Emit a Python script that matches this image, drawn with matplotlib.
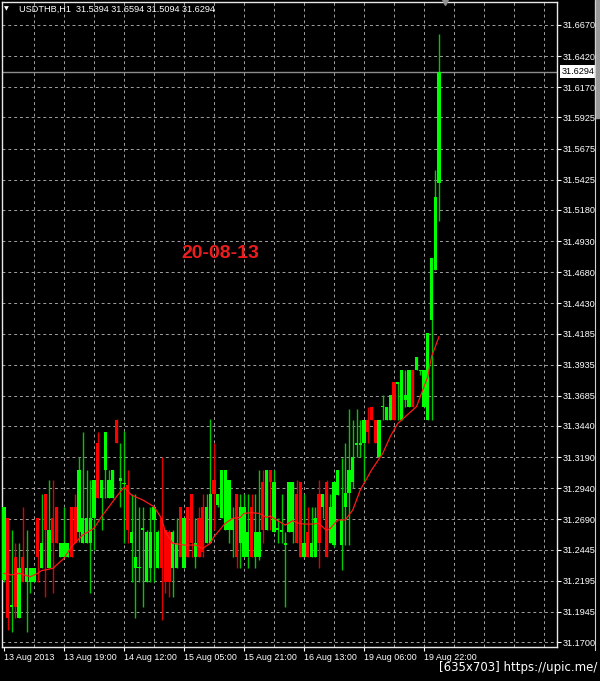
import matplotlib
matplotlib.use("Agg")
import matplotlib.pyplot as plt
import matplotlib.transforms as mtransforms
from matplotlib.patches import Rectangle
import numpy as np

plt.rcParams['font.family'] = ['Liberation Sans', 'DejaVu Sans']

# ---------------- data ----------------
symbol = "USDTHB,H1"
stamp = "20-08-13"
watermark = "[635x703] https://upic.me/"

opens = [31.2200, 31.2696, 31.1985, 31.2387, 31.1891, 31.2387, 31.2186, 31.2186, 31.2186, 31.2696,
         31.2293, 31.2889, 31.2293, 31.2696, 31.2790, 31.2387, 31.2387, 31.2387, 31.2790, 31.2790,
         31.2588, 31.2495, 31.2495, 31.2495, 31.2696, 31.3300, 31.2862, 31.3085, 31.2862, 31.2862,
         31.3488, 31.3000, 31.2970, 31.2964, 31.2495, 31.2293, 31.2293, 31.2602, 31.2186, 31.2293,
         31.2683, 31.2293, 31.2696, 31.2602, 31.2589, 31.2293, 31.2293, 31.2790, 31.2293, 31.2790,
         31.2889, 31.2387, 31.2696, 31.2790, 31.2495, 31.2495, 31.3005, 31.2800, 31.2696, 31.2602,
         31.2602, 31.2602, 31.2889, 31.2495, 31.2387, 31.2387, 31.2790, 31.2387, 31.2387, 31.2991,
         31.2602, 31.3085, 31.2589, 31.2602, 31.2589, 31.2482, 31.2589, 31.2589, 31.2889, 31.2991,
         31.2387, 31.2589, 31.2387, 31.2387, 31.2889, 31.2790, 31.2991, 31.2495, 31.2481, 31.2884,
         31.2481, 31.2790, 31.2898, 31.2991, 31.3290, 31.3287, 31.3300, 31.3488, 31.3596, 31.3488,
         31.3193, 31.3590, 31.3488, 31.3488, 31.3797, 31.3780, 31.3488, 31.3650, 31.3596, 31.3891,
         31.3891, 31.3885, 31.3596, 31.3488, 31.4294, 31.4697, 31.5394]
highs = [31.2790, 31.2696, 31.2602, 31.2495, 31.2495, 31.2790, 31.2602, 31.2293, 31.2293, 31.2696,
         31.2889, 31.2889, 31.3005, 31.3005, 31.2790, 31.2495, 31.2790, 31.2495, 31.2790, 31.2889,
         31.3193, 31.3394, 31.3085, 31.3005, 31.3005, 31.3394, 31.3005, 31.3394, 31.3085, 31.3085,
         31.3500, 31.3300, 31.3400, 31.3085, 31.2889, 31.2889, 31.2790, 31.2790, 31.2602, 31.2790,
         31.2790, 31.2602, 31.3193, 31.2602, 31.2602, 31.2602, 31.2696, 31.2790, 31.2696, 31.2790,
         31.2889, 31.2696, 31.2790, 31.2889, 31.2889, 31.3500, 31.3300, 31.2889, 31.3085, 31.3085,
         31.3005, 31.2790, 31.2889, 31.2889, 31.2889, 31.2889, 31.2889, 31.2889, 31.3085, 31.3085,
         31.3085, 31.3085, 31.3085, 31.2696, 31.2889, 31.2589, 31.2991, 31.2991, 31.3005, 31.2991,
         31.2889, 31.2790, 31.2790, 31.2790, 31.3005, 31.2889, 31.3005, 31.2889, 31.2991, 31.3085,
         31.3180, 31.3300, 31.3580, 31.3488, 31.3580, 31.3488, 31.3488, 31.3596, 31.3596, 31.3488,
         31.3488, 31.3690, 31.3596, 31.3690, 31.3797, 31.3797, 31.3891, 31.3891, 31.3891, 31.3891,
         31.3993, 31.3891, 31.3891, 31.4186, 31.4793, 31.5502, 31.6594]
lows = [31.2186, 31.1800, 31.1783, 31.1891, 31.1891, 31.2186, 31.1783, 31.2092, 31.2186, 31.2186,
        31.2293, 31.2065, 31.2293, 31.2092, 31.2495, 31.2387, 31.2387, 31.2387, 31.2387, 31.2495,
        31.2508, 31.2495, 31.2495, 31.2092, 31.2440, 31.2862, 31.2602, 31.2862, 31.2862, 31.2862,
        31.3300, 31.2790, 31.2495, 31.2495, 31.2186, 31.1891, 31.2186, 31.1985, 31.2186, 31.2186,
        31.2186, 31.2293, 31.1877, 31.2092, 31.2065, 31.2065, 31.2293, 31.2387, 31.2293, 31.2387,
        31.2387, 31.2293, 31.2387, 31.2387, 31.2495, 31.2495, 31.2602, 31.2790, 31.2696, 31.2602,
        31.2495, 31.2387, 31.2293, 31.2293, 31.2387, 31.2293, 31.2387, 31.2293, 31.2360, 31.2495,
        31.2602, 31.2602, 31.2589, 31.2495, 31.2495, 31.1985, 31.2589, 31.2495, 31.2495, 31.2387,
        31.2387, 31.2387, 31.2387, 31.2387, 31.2293, 31.2696, 31.2387, 31.2495, 31.2468, 31.2884,
        31.2280, 31.2481, 31.2481, 31.2938, 31.3193, 31.3193, 31.2991, 31.3300, 31.3488, 31.3300,
        31.3193, 31.3488, 31.3488, 31.3488, 31.3488, 31.3488, 31.3488, 31.3596, 31.3596, 31.3596,
        31.3891, 31.3850, 31.3596, 31.3488, 31.3488, 31.4697, 31.5094]
closes = [31.2790, 31.1891, 31.1995, 31.1985, 31.2293, 31.2186, 31.2293, 31.2293, 31.2293, 31.2387,
          31.2495, 31.2602, 31.2602, 31.2495, 31.2495, 31.2495, 31.2495, 31.2495, 31.2387, 31.2495,
          31.3085, 31.2696, 31.2696, 31.2696, 31.3005, 31.2862, 31.3005, 31.3394, 31.3005, 31.3085,
          31.3300, 31.3020, 31.2980, 31.2602, 31.2589, 31.2387, 31.2306, 31.2615, 31.2589, 31.2589,
          31.2790, 31.2589, 31.2293, 31.2186, 31.2186, 31.2589, 31.2495, 31.2387, 31.2696, 31.2387,
          31.2495, 31.2495, 31.2387, 31.2423, 31.2790, 31.2889, 31.2889, 31.2889, 31.3085, 31.3085,
          31.3005, 31.2696, 31.2387, 31.2790, 31.2790, 31.2589, 31.2387, 31.2589, 31.2589, 31.2602,
          31.3085, 31.2991, 31.2991, 31.2615, 31.2602, 31.2495, 31.2991, 31.2991, 31.2495, 31.2387,
          31.2495, 31.2387, 31.2495, 31.2696, 31.2495, 31.2889, 31.2387, 31.2790, 31.2991, 31.3085,
          31.2683, 31.2898, 31.3085, 31.3193, 31.3300, 31.3300, 31.3488, 31.3394, 31.3488, 31.3300,
          31.3488, 31.3596, 31.3596, 31.3690, 31.3488, 31.3797, 31.3891, 31.3690, 31.3891, 31.3596,
          31.3993, 31.3891, 31.3891, 31.4186, 31.4793, 31.5285, 31.6294]

ma_idx = [0, 2, 4, 7, 9, 10, 13, 16, 18, 21, 24, 26, 28, 30, 32, 34, 37, 40, 42, 43, 45, 48, 51, 53,
          55, 56, 59, 61, 63, 64, 66, 68, 70, 71, 73, 75, 77, 78, 80, 82, 84, 86, 87, 89, 91, 93, 95,
          98, 101, 103, 105, 108, 110, 111, 113, 114, 116]
ma_val = [31.2253, 31.2240, 31.2253, 31.2226, 31.2253, 31.2275, 31.2293, 31.2374, 31.2468, 31.2562,
          31.2616, 31.2710, 31.2790, 31.2871, 31.2946, 31.2884, 31.2844, 31.2790, 31.2696, 31.2589,
          31.2495, 31.2481, 31.2481, 31.2454, 31.2495, 31.2548, 31.2656, 31.2696, 31.2704, 31.2736,
          31.2742, 31.2736, 31.2704, 31.2715, 31.2677, 31.2642, 31.2677, 31.2661, 31.2650, 31.2650,
          31.2656, 31.2597, 31.2615, 31.2683, 31.2683, 31.2763, 31.2924, 31.3085, 31.3220, 31.3354,
          31.3461, 31.3542, 31.3596, 31.3676, 31.3837, 31.3998, 31.4159]

ytick_vals = [31.6670, 31.6420, 31.6170, 31.5925, 31.5675, 31.5425, 31.5180, 31.4930, 31.4680,
              31.4430, 31.4185, 31.3935, 31.3685, 31.3440, 31.3190, 31.2940, 31.2690, 31.2445,
              31.2195, 31.1945, 31.1700]
xtick_bars = [0, 16, 32, 48, 64, 80, 96, 112]
xtick_labels = ["13 Aug 2013", "13 Aug 19:00", "14 Aug 12:00", "15 Aug 05:00",
                "15 Aug 21:00", "16 Aug 13:00", "19 Aug 06:00", "19 Aug 22:00"]

# ---------------- layout ----------------
W, H = 600, 681
fig = plt.figure(figsize=(W / 100, H / 100), dpi=100, facecolor='black')
L, R, T, B = 2, 557, 2, 647
ax = fig.add_axes([L / W, 1 - B / H, (R - L) / W, (B - T) / H])
ax.set_facecolor('black')

bar_px = 3.75
x_first = 4.0
ax.set_xlim((L - x_first) / bar_px, (R - x_first) / bar_px)
px_per_unit = (642 - 25) / (ytick_vals[0] - ytick_vals[-1])
ax.set_ylim(ytick_vals[-1] - (B - 642) / px_per_unit, ytick_vals[0] + (25 - T) / px_per_unit)

grid_kw = dict(color='#a0a0a0', lw=0.7, ls=(0, (3, 3)), zorder=0.5)
for k in range(8, 148, 8):
    ax.axvline(k, **grid_kw)
for v in ytick_vals:
    ax.axhline(v, **grid_kw)

# current price line
ax.axhline(closes[-1], color='#8c8c8c', lw=1.0, zorder=1)

# ---------------- candles ----------------
o = np.array(opens); h = np.array(highs); l = np.array(lows); c = np.array(closes)
x = np.arange(len(o))
up = c >= o
ax.vlines(x[up], l[up], h[up], color='#00c800', lw=1.0, zorder=2)
ax.vlines(x[~up], l[~up], h[~up], color='#e00000', lw=1.0, zorder=2)
body_lo = np.minimum(o, c)
body_h = np.maximum(np.abs(c - o), 0.0009)
ax.bar(x[up], body_h[up], bottom=body_lo[up], width=0.88, color='#00ff00', linewidth=0, zorder=3)
ax.bar(x[~up], body_h[~up], bottom=body_lo[~up], width=0.88, color='#ff0000', linewidth=0, zorder=3)

# moving average
ax.plot(ma_idx, ma_val, color='#ff1a1a', lw=0.9, zorder=4)

# ---------------- axes styling ----------------
for s in ax.spines.values():
    s.set_color('#e8e8e8')
    s.set_linewidth(1.0)

ax.yaxis.tick_right()
ax.set_yticks(ytick_vals)
ax.set_yticklabels([f"{v:.4f}" for v in ytick_vals])
ax.set_xticks(xtick_bars)
ax.set_xticklabels(xtick_labels, ha='left')
ax.tick_params(axis='y', colors='white', length=3, width=0.8, pad=1.0, labelsize=6.6)
ax.tick_params(axis='x', colors='white', length=3, width=0.8, pad=1.5, labelsize=6.4)

# current price box on the price scale
ax.text(1.0 + 4.5 / (R - L), closes[-1], f"{closes[-1]:.4f}", transform=ax.get_yaxis_transform(),
        ha='left', va='center', fontsize=6.6, color='black',
        bbox=dict(boxstyle='square,pad=0.2', fc='white', ec='none'))

# chart shift marker
ax.plot([len(o) + 0.5], [1.0], marker='v', ms=5, color='#909090',
        transform=mtransforms.blended_transform_factory(ax.transData, ax.transAxes),
        clip_on=False, zorder=5)

# header text
fig.text(3.5 / W, 1 - 9 / H, "\u25bc", color='white', fontsize=4.5, va='center', ha='left',
         family=['DejaVu Sans'])
fig.text(19 / W, 1 - 9 / H,
         f"{symbol}  {opens[-1]:.4f} {highs[-1]:.4f} {lows[-1]:.4f} {closes[-1]:.4f}",
         color='white', fontsize=6.6, va='center', ha='left')

# date stamp
fig.text(181 / W, 1 - 253 / H, stamp, color='#ee1c1c', fontsize=14, fontweight='bold',
         va='center', ha='left')

# watermark
fig.text(597 / W, 1 - 668 / H, watermark, color='white', fontsize=8.5, va='center', ha='right',
         family=['DejaVu Sans'])

# right-hand scroll strip
fig.add_artist(plt.Line2D([594.5 / W, 594.5 / W], [1 - 650 / H, 1.0], color='#d0d0d0', lw=0.8,
                          transform=fig.transFigure))
fig.add_artist(Rectangle((595 / W, 1 - 118 / H), 4 / W, 118 / H, color='#9a9a9a',
                         transform=fig.transFigure))

fig.savefig("out.png", dpi=100, facecolor='black')
